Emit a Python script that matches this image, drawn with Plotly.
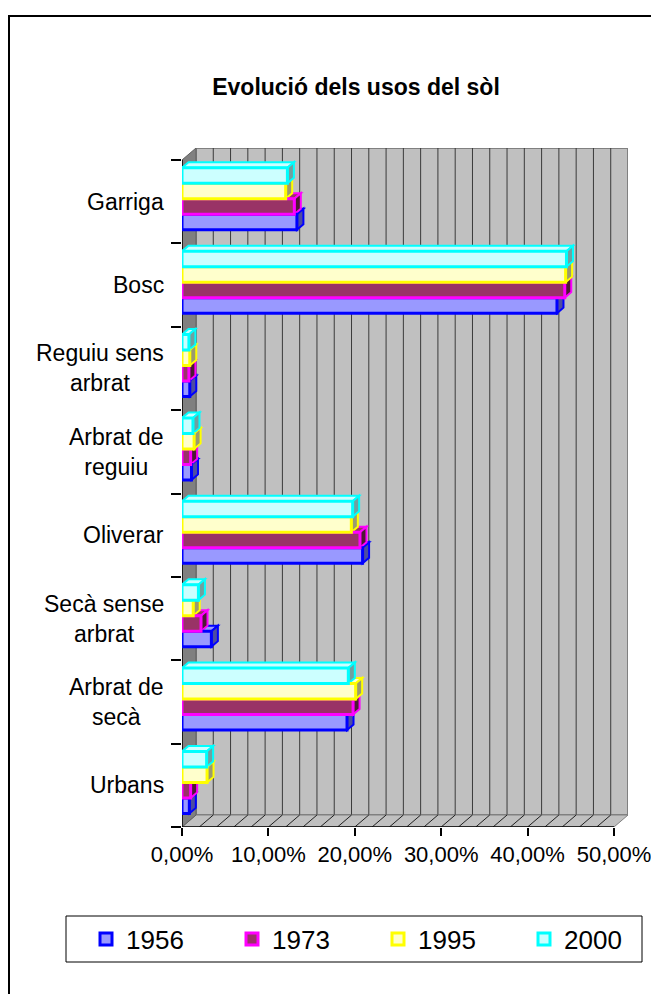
import plotly.graph_objects as go
import numpy as np

# ---------------- data ----------------
categories = ["Urbans", "Arbrat de secà", "Secà sense arbrat", "Oliverar",
              "Arbrat de reguiu", "Reguiu sens arbrat", "Bosc", "Garriga"]
category_labels = ["Urbans", "Arbrat de<br>secà", "Secà sense<br>arbrat", "Oliverar",
                   "Arbrat de<br>reguiu", "Reguiu sens<br>arbrat", "Bosc", "Garriga"]
years = ["1956", "1973", "1995", "2000"]
v1956 = [0.0085, 0.191, 0.034, 0.209, 0.011, 0.009, 0.434, 0.133]
v1973 = [0.0100, 0.198, 0.022, 0.206, 0.010, 0.008, 0.443, 0.130]
v1995 = [0.0290, 0.201, 0.013, 0.196, 0.014, 0.009, 0.444, 0.120]
v2000 = [0.0285, 0.1925, 0.019, 0.1975, 0.0127, 0.008, 0.445, 0.122]
series = [v1956, v1973, v1995, v2000]
x_tickvals = [0, 0.1, 0.2, 0.3, 0.4, 0.5]
x_ticktext = ["0,00%", "10,00%", "20,00%", "30,00%", "40,00%", "50,00%"]

# ---------------- styles ----------------
fill_colors = ["#9999FF", "#993366", "#FFFFCC", "#CCFFFF"]
edge_colors = ["#0000FF", "#FF00FF", "#FFFF00", "#00FFFF"]
side_colors = ["#4D4DA0", "#4D1A33", "#9A9A70", "#70A0A0"]
FONT = "Liberation Sans, Arial, sans-serif"

OFF = 8  # default page body margin
W, H = 659 - OFF, 994 - OFF
PL, PR_FRONT, PR_BACK = 182 - OFF, 614 - OFF, 628 - OFF
PT_BACK, PT_FRONT, PB = 148 - OFF, 160 - OFF, 827 - OFF
X_MAX = 0.5
NCAT = len(categories)
px_x = (PR_FRONT - PL) / X_MAX
px_y = (PB - PT_FRONT) / NCAT
DXW = (PR_BACK - PR_FRONT) / px_x
DYW = (PT_FRONT - PT_BACK) / px_y
DXB = 6.5 / px_x
DYB = 5.5 / px_y
BW = 15.5 / px_y
SHIFT = 0.035


def paper_x(px):  # px given in page coordinates
    return (px - OFF - PL) / (PR_BACK - PL)


def paper_y(py):
    return (PB - (py - OFF)) / (PB - PT_BACK)


fig = go.Figure()

shapes = []
# back wall
shapes.append(dict(type="rect", xref="x", yref="y", layer="below",
                   x0=DXW, x1=X_MAX + DXW, y0=-0.5 + DYW, y1=NCAT - 0.5 + DYW,
                   fillcolor="#C0C0C0", line=dict(color="#808080", width=2)))
# grid lines on back wall
for gx in np.arange(0.02, X_MAX - 0.001, 0.02):
    shapes.append(dict(type="line", xref="x", yref="y", layer="below",
                       x0=gx + DXW, x1=gx + DXW, y0=-0.5 + DYW, y1=NCAT - 0.5 + DYW,
                       line=dict(color="#3A3A3A", width=1)))
# floor
shapes.append(dict(type="path", xref="x", yref="y", layer="below",
                   path=f"M0,-0.5 L{X_MAX},-0.5 L{X_MAX + DXW},{-0.5 + DYW} L{DXW},{-0.5 + DYW} Z",
                   fillcolor="#C0C0C0", line=dict(color="#808080", width=1)))
for gx in np.arange(0.02, X_MAX - 0.001, 0.02):
    shapes.append(dict(type="line", xref="x", yref="y", layer="below",
                       x0=gx, x1=gx + DXW, y0=-0.5, y1=-0.5 + DYW,
                       line=dict(color="#202020", width=1)))
# left wall
shapes.append(dict(type="path", xref="x", yref="y", layer="below",
                   path=f"M0,-0.5 L0,{NCAT - 0.5} L{DXW},{NCAT - 0.5 + DYW} L{DXW},{-0.5 + DYW} Z",
                   fillcolor="#808080", line=dict(color="#606060", width=1)))
# front axis lines
shapes.append(dict(type="line", xref="x", yref="y", layer="below",
                   x0=0, x1=0, y0=-0.5, y1=NCAT - 0.5, line=dict(color="black", width=1.5)))
shapes.append(dict(type="line", xref="x", yref="y", layer="below",
                   x0=0, x1=X_MAX, y0=-0.5, y1=-0.5, line=dict(color="black", width=1.5)))

offsets = [-2 * BW + i * BW + SHIFT for i in range(4)]

# 3D faces of bars (top + right side), drawn below the front faces
for j in range(NCAT):
    for i, vals in enumerate(series):
        v = vals[j]
        y0 = j + offsets[i]
        y1 = y0 + BW
        shapes.append(dict(type="path", xref="x", yref="y", layer="below",
                           path=f"M0,{y1} L{v},{y1} L{v + DXB},{y1 + DYB} L{DXB},{y1 + DYB} Z",
                           fillcolor=fill_colors[i], line=dict(color=edge_colors[i], width=2)))
        shapes.append(dict(type="path", xref="x", yref="y", layer="below",
                           path=f"M{v},{y0} L{v + DXB},{y0 + DYB} L{v + DXB},{y1 + DYB} L{v},{y1} Z",
                           fillcolor=side_colors[i], line=dict(color=edge_colors[i], width=2)))

# outer chart border (clipped by the page on right / bottom)
shapes.append(dict(type="rect", xref="paper", yref="paper", layer="above",
                   x0=paper_x(9), x1=paper_x(700), y0=paper_y(1050), y1=paper_y(16),
                   line=dict(color="black", width=2), fillcolor="rgba(0,0,0,0)"))
# legend box
shapes.append(dict(type="rect", xref="paper", yref="paper", layer="above",
                   x0=paper_x(66), x1=paper_x(642), y0=paper_y(962), y1=paper_y(916),
                   line=dict(color="black", width=1), fillcolor="rgba(0,0,0,0)"))

for i, vals in enumerate(series):
    fig.add_trace(go.Bar(
        y=list(range(NCAT)), x=vals, orientation="h", name=years[i],
        width=BW, offset=offsets[i],
        marker=dict(color=fill_colors[i], line=dict(color=edge_colors[i], width=3)),
    ))

annotations = []
for j, lab in enumerate(category_labels):
    annotations.append(dict(x=0, y=j, xref="x", yref="y", text=lab, showarrow=False,
                            xanchor="right", yanchor="middle", xshift=-16, align="center",
                            font=dict(family=FONT, size=23, color="black")))

fig.update_layout(
    width=W, height=H,
    margin=dict(l=PL, r=W - PR_BACK, t=PT_BACK, b=H - PB, pad=0, autoexpand=False),
    paper_bgcolor="white", plot_bgcolor="white",
    barmode="overlay",
    font=dict(family=FONT, size=22, color="black"),
    title=dict(text="<b>Evolució dels usos del sòl</b>", xref="paper", x=paper_x(356),
               xanchor="center", yref="container", y=1 - (87 - OFF) / H, yanchor="middle",
               font=dict(family=FONT, size=23, color="black")),
    xaxis=dict(range=[0, X_MAX + DXW], tickvals=x_tickvals, ticktext=x_ticktext,
               ticks="outside", ticklen=8, tickcolor="black", tickwidth=1.5,
               showgrid=False, zeroline=False, showline=False, automargin=False,
               tickfont=dict(family=FONT, size=22, color="black")),
    yaxis=dict(range=[-0.5, NCAT - 0.5 + DYW],
               tickvals=[k - 0.5 for k in range(NCAT + 1)], ticktext=[""] * (NCAT + 1),
               ticks="outside", ticklen=10, tickcolor="black", tickwidth=1.5,
               showgrid=False, zeroline=False, showline=False, automargin=False),
    shapes=shapes,
    annotations=annotations,
    showlegend=True,
    legend=dict(orientation="h", x=paper_x(86), xanchor="left", y=paper_y(939), yanchor="middle",
                borderwidth=0, bgcolor="rgba(0,0,0,0)",
                font=dict(family=FONT, size=26, color="black"),
                entrywidth=101, traceorder="normal"),
)

fig.write_html("out.html")
